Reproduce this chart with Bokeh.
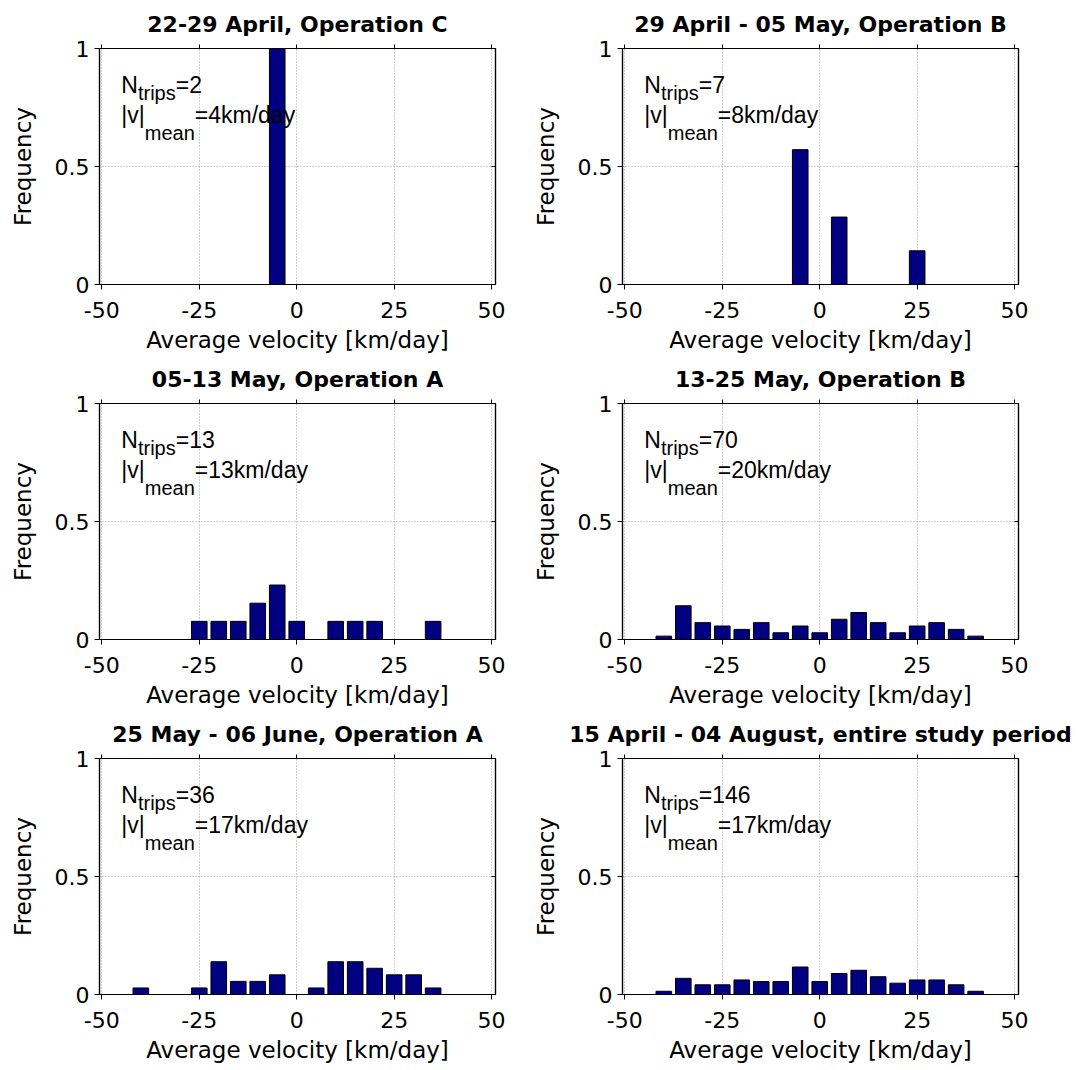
from bokeh.plotting import figure
from bokeh.models import ColumnDataSource, FixedTicker, LinearAxis, Label, Range1d
from bokeh.layouts import column, row
from bokeh.embed import file_html
from bokeh.resources import INLINE

# ---------------- data ----------------
bin_centers = [-40, -35, -30, -25, -20, -15, -10, -5, 0, 5, 10, 15, 20, 25, 30, 35, 40]

titles = [
    "22-29 April, Operation C",
    "29 April - 05 May, Operation B",
    "05-13 May, Operation A",
    "13-25 May, Operation B",
    "25 May - 06 June, Operation A",
    "15 April - 04 August, entire study period",
]
n_trips = [2, 7, 13, 70, 36, 146]
mean_speed_km_day = [4, 8, 13, 20, 17, 17]

counts_22_29_apr = [0, 0, 0, 0, 0, 0, 0, 2, 0, 0, 0, 0, 0, 0, 0, 0, 0]
counts_29apr_05may = [0, 0, 0, 0, 0, 0, 0, 4, 0, 2, 0, 0, 0, 1, 0, 0, 0]
counts_05_13_may = [0, 0, 0, 1, 1, 1, 2, 3, 1, 0, 1, 1, 1, 0, 0, 1, 0]
counts_13_25_may = [1, 10, 5, 4, 3, 5, 2, 4, 2, 6, 8, 5, 2, 4, 5, 3, 1]
counts_25may_06jun = [1, 0, 0, 1, 5, 2, 2, 3, 0, 1, 5, 5, 4, 3, 3, 1, 0]
counts_entire = [2, 10, 6, 6, 9, 8, 8, 17, 8, 13, 15, 11, 7, 9, 9, 6, 2]

all_counts = [counts_22_29_apr, counts_29apr_05may, counts_05_13_may,
              counts_13_25_may, counts_25may_06jun, counts_entire]

x_ticks = [-50, -25, 0, 25, 50]
x_tick_labels = ["-50", "-25", "0", "25", "50"]
y_ticks = [0, 0.5, 1]
y_tick_labels = ["0", "0.5", "1"]

x_label = "Average velocity [km/day]"
y_label = "Frequency"

# ---------------- styling ----------------
BAR_COLOR = "#000080"
TICK_FONT = "DejaVu Sans"
LABEL_FONT = "DejaVu Sans"
TITLE_FONT = "DejaVu Sans"
ANNOT_FONT = "Liberation Sans"
MAIN_SIZE = 23
SUB_SIZE = 20

# Arial / Liberation Sans advance widths (em) for offset computation
ARIAL_W = {"N": 0.722, "t": 0.278, "r": 0.333, "i": 0.222, "p": 0.556, "s": 0.5,
           "=": 0.584, "|": 0.26, "v": 0.5, "m": 0.833, "e": 0.556, "a": 0.556,
           "n": 0.556, "k": 0.5, "/": 0.278, "d": 0.556, "y": 0.5}
for c in "0123456789":
    ARIAL_W[c] = 0.556


def text_w(s, size):
    return sum(ARIAL_W.get(c, 0.556) for c in s) * size


FRAME_W = 396
FRAME_H = 236


def make_panel(idx, left_col, last_row):
    counts = all_counts[idx]
    n = n_trips[idx]
    xs = [b for b, c in zip(bin_centers, counts) if c > 0]
    freq = [c / n for c in counts if c > 0]
    src = ColumnDataSource(dict(x=xs, top=freq))

    p = figure(frame_width=FRAME_W, frame_height=FRAME_H,
               x_range=Range1d(-50.6, 51.0), y_range=Range1d(0, 1),
               output_backend="svg", toolbar_location=None,
               min_border_left=99 if left_col else 92,
               min_border_right=34 if left_col else 58,
               min_border_top=48, min_border_bottom=71,
               background_fill_color="white", border_fill_color="white")
    p.outline_line_color = "black"
    p.outline_line_width = 1.2

    p.title.text = titles[idx]
    p.title.align = "center"
    p.title.text_font = TITLE_FONT
    p.title.text_font_style = "bold"
    p.title.text_font_size = "22px"
    p.title.text_color = "black"
    p.title.standoff = 15

    xt = FixedTicker(ticks=x_ticks, minor_ticks=[])
    yt = FixedTicker(ticks=y_ticks, minor_ticks=[])

    xa = p.xaxis[0]
    xa.ticker = xt
    xa.major_label_overrides = {t: l for t, l in zip(x_ticks, x_tick_labels)}
    xa.axis_label = x_label
    ya = p.yaxis[0]
    ya.ticker = yt
    ya.major_label_overrides = {t: l for t, l in zip(y_ticks, y_tick_labels)}
    ya.axis_label = y_label

    for ax in (xa, ya):
        ax.major_tick_out = 5
        ax.major_tick_in = 0
        ax.minor_tick_line_color = None
        ax.axis_line_color = "black"
        ax.axis_line_width = 1.2
        ax.major_tick_line_color = "black"
        ax.major_label_text_font = TICK_FONT
        ax.major_label_text_font_size = "22px"
        ax.major_label_text_color = "black"
        ax.axis_label_text_font = LABEL_FONT
        ax.axis_label_text_font_size = "23px"
        ax.axis_label_text_font_style = "normal"
        ax.axis_label_text_color = "black"
    xa.major_label_standoff = 12
    xa.axis_label_standoff = 6
    ya.major_label_standoff = 5
    ya.axis_label_standoff = 16

    # mirrored ticks on top and right (no labels)
    top = LinearAxis(ticker=xt, major_label_overrides={t: "" for t in x_ticks},
                     major_label_text_font_size="0px", major_label_standoff=0,
                     major_tick_out=4, major_tick_in=0, minor_tick_line_color=None,
                     axis_line_color="black", axis_line_width=1.2)
    p.add_layout(top, "above")
    right = LinearAxis(ticker=yt, major_label_overrides={t: "" for t in y_ticks},
                       major_label_text_font_size="0px", major_label_standoff=0,
                       major_tick_out=0, major_tick_in=4, minor_tick_line_color=None,
                       axis_line_color="black", axis_line_width=1.2)
    p.add_layout(right, "right")

    for g in (p.xgrid[0], p.ygrid[0]):
        g.grid_line_color = "#a0a0a0"
        g.grid_line_dash = "1 2"
        g.grid_line_width = 1
    p.xgrid[0].ticker = xt
    p.ygrid[0].ticker = yt

    p.vbar(x="x", top="top", bottom=0, width=4, source=src,
           fill_color=BAR_COLOR, line_color="black", line_width=1)

    # annotation: N_trips = n ; |v|_mean = m km/day
    x0 = -45
    pieces = [
        ("N", 0, -36.5, MAIN_SIZE),
        ("trips", text_w("N", MAIN_SIZE), -44, SUB_SIZE),
        ("=%d" % n, text_w("N", MAIN_SIZE) + text_w("trips", SUB_SIZE), -36.5, MAIN_SIZE),
        ("|v|", 0, -66, MAIN_SIZE),
        ("mean", text_w("|v|", MAIN_SIZE), -84.5, SUB_SIZE),
        ("=%dkm/day" % mean_speed_km_day[idx],
         text_w("|v|", MAIN_SIZE) + text_w("mean", SUB_SIZE), -66, MAIN_SIZE),
    ]
    for txt, dx, dy, size in pieces:
        p.add_layout(Label(x=x0, y=1, x_offset=dx, y_offset=dy, text=txt,
                           text_font=ANNOT_FONT, text_font_size="%dpx" % size,
                           text_color="black", text_baseline="alphabetic",
                           text_align="left"))
    return p


panels = [make_panel(i, i % 2 == 0, i >= 4) for i in range(6)]
layout = column(row(panels[0], panels[1]),
                row(panels[2], panels[3]),
                row(panels[4], panels[5]))

open("out.html", "w").write(file_html(layout, INLINE))
